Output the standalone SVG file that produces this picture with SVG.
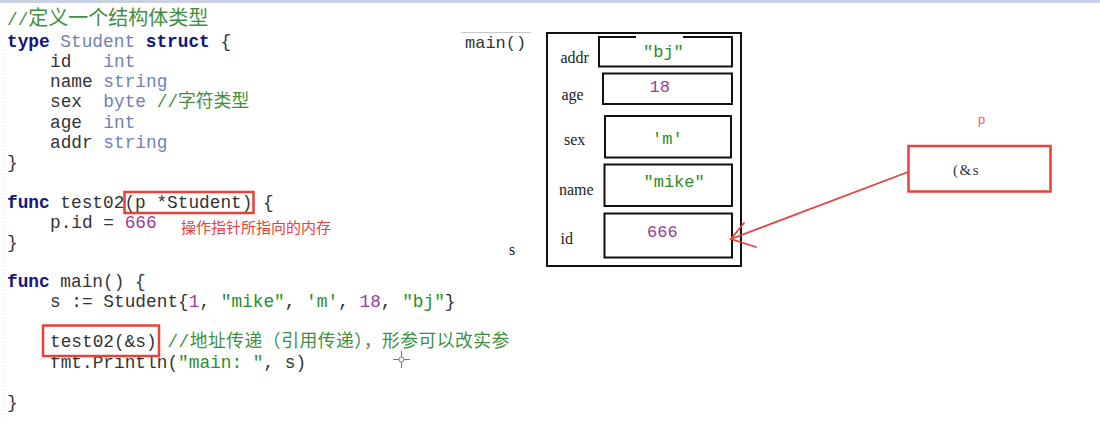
<svg xmlns="http://www.w3.org/2000/svg" width="1100" height="432" viewBox="0 0 1100 432">
<style>
.code{font-family:"Liberation Mono","Noto Sans CJK SC",monospace;font-size:17.8px;fill:#333;white-space:pre}
.kw{font-weight:bold;fill:#14147a}
.ty{fill:#6f7fba}
.num{fill:#9a3a9a}
.str{fill:#2a8c2a}
.cm{fill:#3f8f3f}
.lbl{font-family:"Liberation Serif",serif;font-size:16px;fill:#222}
.val{font-family:"Liberation Mono",monospace;font-size:17px}
.cell{fill:none;stroke:#111;stroke-width:2}
.red{fill:none;stroke:#e8403a;stroke-width:2.5}
.note{font-family:"Noto Sans CJK SC",sans-serif;font-size:15px;fill:#e8403a}
</style>
<rect x="0" y="0" width="1100" height="432" fill="#fff"/>
<rect x="0" y="0" width="1100" height="3" fill="#c9d1e3"/>
<line x1="4" y1="50" x2="4" y2="418" stroke="#d4dbe4" stroke-width="1" stroke-dasharray="1 2"/>

<g id="code" class="code">
<text xml:space="preserve" x="7" y="25"><tspan class="cm">//</tspan><tspan class="cm" style="font-size:20px">定义一个结构体类型</tspan></text>
<text xml:space="preserve" x="7" y="46.5"><tspan class="kw">type</tspan> <tspan class="ty">Student</tspan> <tspan class="kw">struct</tspan> {</text>
<text xml:space="preserve" x="50" y="66.5">id   <tspan class="ty">int</tspan></text>
<text xml:space="preserve" x="50" y="86.5">name <tspan class="ty">string</tspan></text>
<text xml:space="preserve" x="50" y="106.5">sex  <tspan class="ty">byte</tspan> <tspan class="cm">//字符类型</tspan></text>
<text xml:space="preserve" x="50" y="127.5">age  <tspan class="ty">int</tspan></text>
<text xml:space="preserve" x="50" y="147.5">addr <tspan class="ty">string</tspan></text>
<text xml:space="preserve" x="7" y="168">}</text>
<text xml:space="preserve" x="7" y="208"><tspan class="kw">func</tspan> test02(p *Student) {</text>
<text xml:space="preserve" x="50" y="227.5">p.id = <tspan class="num">666</tspan></text>
<text xml:space="preserve" x="7" y="248">}</text>
<text xml:space="preserve" x="7" y="287"><tspan class="kw">func</tspan> main() {</text>
<text xml:space="preserve" x="50" y="306.5">s := Student{<tspan class="num">1</tspan>, <tspan class="str">"mike"</tspan>, <tspan class="str">'m'</tspan>, <tspan class="num">18</tspan>, <tspan class="str">"bj"</tspan>}</text>
<text xml:space="preserve" x="50" y="346.5">test02(&amp;s) <tspan class="cm" style="letter-spacing:0.5px">//地址传递（引用传递），形参可以改实参</tspan></text>
<text xml:space="preserve" x="50" y="367.5">fmt.Println(<tspan class="str">"main: "</tspan>, s)</text>
<text xml:space="preserve" x="7" y="408">}</text>
</g>

<g id="param-box">
<rect class="red" x="124.5" y="192" width="129" height="21"/>
</g>
<g id="call-box">
<rect class="red" x="43" y="325.5" width="116" height="30.5"/>
</g>
<g id="note">
<text class="note" x="181" y="233">操作指针所指向的内存</text>
</g>

<g id="cursor" stroke="#777" stroke-width="1" fill="none">
<circle cx="401.5" cy="359.5" r="2.5"/>
<line x1="401.5" y1="351" x2="401.5" y2="357"/>
<line x1="401.5" y1="362" x2="401.5" y2="368"/>
<line x1="393" y1="359.5" x2="399" y2="359.5"/>
<line x1="404" y1="359.5" x2="410" y2="359.5"/>
</g>

<g id="main-frame">
<line x1="461" y1="32.5" x2="531" y2="32.5" stroke="#c8c8c8" stroke-width="1"/>
<text class="val" x="465" y="48" fill="#333">main()</text>
<rect class="cell" x="547" y="33" width="194" height="233"/>
<text class="lbl" x="509" y="255">s</text>
</g>

<g id="field-addr">
<rect class="cell" x="599" y="37" width="133" height="29.5"/>
<rect x="636" y="35.5" width="47" height="3" fill="#fff"/>
<text class="lbl" x="560.5" y="63">addr</text>
<text class="val" x="643" y="57" fill="#2a8c2a">"bj"</text>
</g>
<g id="field-age">
<rect class="cell" x="603" y="73.5" width="129" height="30.5"/>
<text class="lbl" x="561.5" y="100">age</text>
<text class="val" x="649.5" y="92" fill="#9a3a9a">18</text>
</g>
<g id="field-sex">
<rect class="cell" x="605" y="116" width="126" height="41.5"/>
<text class="lbl" x="564" y="145">sex</text>
<text class="val" x="652" y="143.5" fill="#2a8c2a">'m'</text>
</g>
<g id="field-name">
<rect class="cell" x="604.5" y="164.5" width="127.5" height="41.5"/>
<text class="lbl" x="559" y="195">name</text>
<text class="val" x="643.5" y="186.5" fill="#2a8c2a">"mike"</text>
</g>
<g id="field-id">
<rect class="cell" x="604.5" y="213.5" width="127.5" height="44"/>
<text class="lbl" x="560.5" y="244">id</text>
<text class="val" x="647" y="237" fill="#9a3a9a">666</text>
</g>

<g id="pointer-p">
<text x="978" y="123.5" font-family="Liberation Sans, sans-serif" font-size="13" fill="#f0604c">p</text>
<rect class="red" x="908.5" y="146" width="142" height="45.5"/>
<text x="953" y="174.5" font-family="Liberation Serif, serif" font-size="15" letter-spacing="1.5" fill="#333">(&amp;s</text>
</g>

<g id="connectors" stroke="#e8403a" stroke-width="1.8" fill="none" stroke-linecap="round">
<line x1="908" y1="172" x2="731" y2="239"/>
<polyline points="744,223 731,239 756,247"/>
</g>
</svg>
